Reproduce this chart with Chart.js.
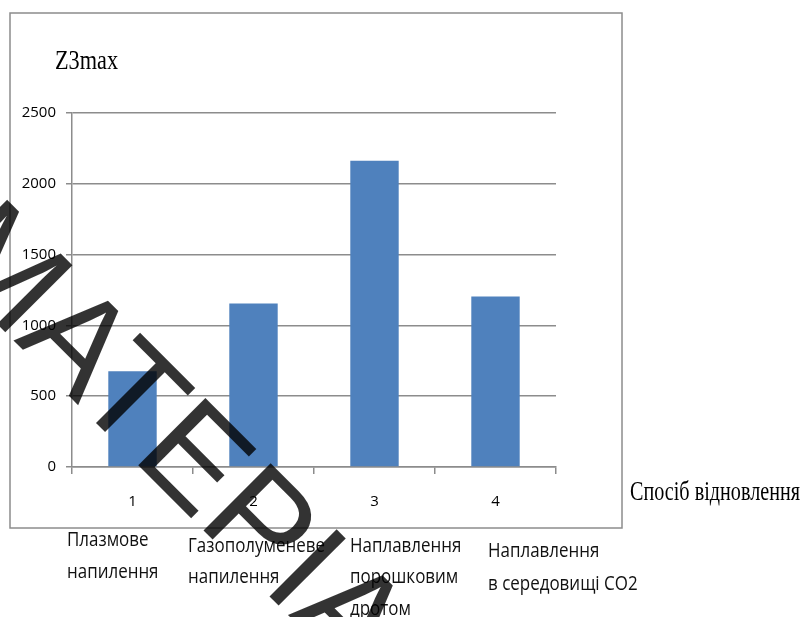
<!DOCTYPE html>
<html>
<head>
<meta charset="utf-8">
<script src="https://cdn.jsdelivr.net/npm/chart.js@4.4.1/dist/chart.umd.min.js"></script>
<style>
    body { margin: 0; background: #fff; }
    canvas { display: block; }
</style>
</head>
<body>
<canvas id="z3Chart" width="800" height="617"></canvas>
<script>
// дані діаграми
var categories = ['1', '2', '3', '4'];
var z3maxValues = [676, 1155, 2162, 1204];
var yTickValues = [0, 500, 1000, 1500, 2000, 2500];
var methodNames = [
    ['Плазмове', 'напилення'],
    ['Газополуменеве', 'напилення'],
    ['Наплавлення', 'порошковим', 'дротом'],
    ['Наплавлення', 'в середовищі СО2']
];
var chartTitle = 'Z3max';
var xAxisTitle = 'Спосіб відновлення';
var watermarkText = 'МАТЕРІАЛ';

var gridColor = '#8c8c8c';
var barColor = '#4f81bd';

// малює текст, стиснутий по ширині
function drawFitted(ctx, text, x, y, font, width) {
    ctx.save();
    ctx.font = font;
    var k = width / ctx.measureText(text).width;
    ctx.translate(x, y);
    ctx.scale(k, 1);
    ctx.fillText(text, 0, 0);
    ctx.restore();
}

var decorPlugin = {
    id: 'decor',
    beforeDraw: function(chart) {
        var ctx = chart.ctx;
        ctx.save();
        ctx.fillStyle = '#fff';
        ctx.fillRect(0, 0, chart.width, chart.height);
        // рамка діаграми
        ctx.strokeStyle = gridColor;
        ctx.lineWidth = 1.5;
        ctx.strokeRect(10, 13, 612, 515);
        ctx.restore();
    },
    afterDraw: function(chart) {
        var ctx = chart.ctx;
        ctx.save();
        ctx.fillStyle = '#000';
        ctx.textAlign = 'left';
        ctx.textBaseline = 'alphabetic';

        // заголовок і назва осі
        drawFitted(ctx, chartTitle, 55, 69, '27px "Liberation Serif"', 63);
        drawFitted(ctx, xAxisTitle, 630, 500, '27px "Liberation Serif"', 170);

        // підписи способів під рамкою
        var font = '20px "Open Sans"';
        ctx.font = font;
        var k = 137 / ctx.measureText('Газополуменеве').width;
        var pos = [
            { x: 67, y: [546, 578] },
            { x: 188, y: [552, 583] },
            { x: 350, y: [552, 583, 615] },
            { x: 488, y: [557, 590] }
        ];
        ctx.fillStyle = '#111';
        methodNames.forEach(function(lines, i) {
            lines.forEach(function(line, j) {
                ctx.save();
                ctx.font = font;
                ctx.translate(pos[i].x, pos[i].y[j]);
                ctx.scale(k, 1);
                ctx.fillText(line, 0, 0);
                ctx.restore();
            });
        });

        // водяний знак
        ctx.save();
        ctx.fillStyle = 'rgba(0, 0, 0, 0.8)';
        ctx.font = '138px "Liberation Sans"';
        ctx.translate(-68, 259);
        ctx.rotate(45 * Math.PI / 180);
        ctx.fillText(watermarkText, 0, 0);
        ctx.restore();

        ctx.restore();
    }
};

new Chart(document.getElementById('z3Chart'), {
    type: 'bar',
    data: {
        labels: categories,
        datasets: [{
            label: chartTitle,
            data: z3maxValues,
            backgroundColor: barColor,
            borderWidth: 0,
            barPercentage: 0.4,
            categoryPercentage: 1
        }]
    },
    options: {
        responsive: false,
        animation: false,
        layout: {
            padding: { left: 0, top: 113, right: 244, bottom: 110 }
        },
        plugins: {
            legend: { display: false },
            tooltip: { enabled: false },
            title: { display: false }
        },
        scales: {
            x: {
                grid: {
                    offset: true,
                    drawOnChartArea: false,
                    drawTicks: true,
                    tickLength: 7,
                    color: gridColor,
                    lineWidth: 1.5
                },
                border: { display: true, color: gridColor, width: 1.5 },
                ticks: {
                    color: '#000',
                    padding: 19,
                    font: { family: '"Open Sans"', size: 15 }
                },
                afterFit: function(scale) { scale.height = 40; }
            },
            y: {
                min: 0,
                max: 2500,
                afterBuildTicks: function(scale) {
                    scale.ticks = yTickValues.map(function(v) { return { value: v }; });
                },
                grid: {
                    color: gridColor,
                    lineWidth: 1.5,
                    drawTicks: true,
                    tickLength: 6
                },
                border: { display: true, color: gridColor, width: 1.5 },
                ticks: {
                    color: '#000',
                    padding: 10,
                    font: { family: '"Open Sans"', size: 15 },
                    callback: function(value) { return String(value); }
                },
                afterFit: function(scale) { scale.width = 72; }
            }
        }
    },
    plugins: [decorPlugin]
});
</script>
</body>
</html>
